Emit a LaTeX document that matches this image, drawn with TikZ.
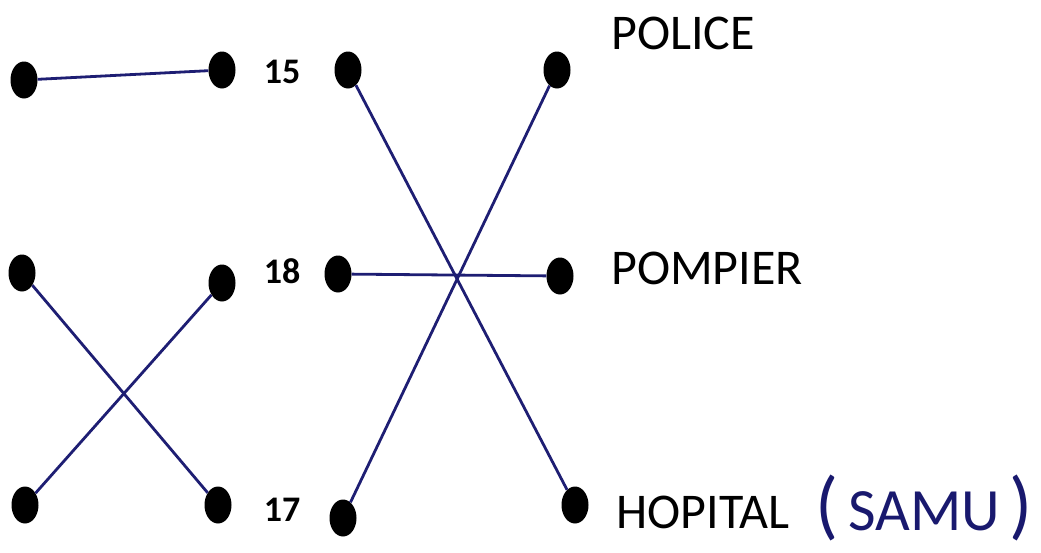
\documentclass[tikz,border=0pt]{standalone}
\usepackage{fontspec}
\setmainfont{Carlito}
\definecolor{ink}{RGB}{30,30,115}
\definecolor{pen}{RGB}{25,25,110}
\tikzset{
  dot/.style={ellipse, fill=black, minimum width=27pt, minimum height=37pt, inner sep=0pt},
  wire/.style={draw=ink, line width=2.8pt},
  num/.style={font=\fontsize{36}{40}\selectfont\bfseries},
  lbl/.style={font=\fontsize{50}{55}\selectfont},
  hand/.style={font=\fontsize{60}{64}\selectfont, text=pen}
}
\usetikzlibrary{shapes.geometric}
\begin{document}
\begin{tikzpicture}[x=1pt,y=-1pt]
\useasboundingbox (0,0) rectangle (1041,552);
\node[dot] (a1) at (24,80) {};
\node[dot] (a2) at (22,273) {};
\node[dot] (a3) at (25,505) {};
\node[dot] (b1) at (222,70) {};
\node[dot] (b2) at (222,283) {};
\node[dot] (b3) at (218,505) {};
\node[dot] (c1) at (348,70) {};
\node[dot] (c2) at (338,274) {};
\node[dot] (c3) at (343,518) {};
\node[dot] (d1) at (557,70) {};
\node[dot] (d2) at (560,276) {};
\node[dot] (d3) at (575,505) {};
\node[num] (n15) at (282,72) {15};
\node[num] (n18) at (282,271) {18};
\node[num] (n17) at (282,510) {17};
\node[lbl] (police) at (683,33) {POLICE};
\node[lbl] (pompier) at (707,268) {POMPIER};
\node[lbl] (hopital) at (703,512) {HOPITAL};
\node[hand] (samu) at (924,508) {{\fontsize{76}{80}\selectfont(}\,SAMU\,{\fontsize{76}{80}\selectfont)}};
\draw[wire] (a1) -- (b1);
\draw[wire] (a2) -- (b3);
\draw[wire] (a3) -- (b2);
\draw[wire] (c1) -- (d3);
\draw[wire] (d1) -- (c3);
\draw[wire] (c2) -- (d2);
\end{tikzpicture}
\end{document}
